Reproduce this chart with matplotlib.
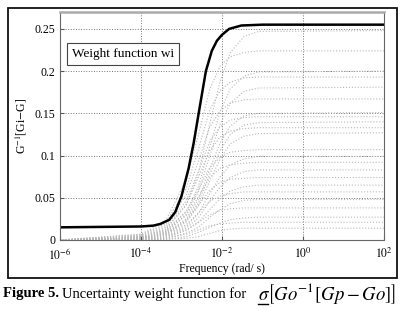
import numpy as np
import matplotlib
matplotlib.use('Agg')
import matplotlib.pyplot as plt
from matplotlib.patches import Rectangle
from matplotlib.lines import Line2D
from matplotlib.ticker import FixedLocator, NullLocator

plt.rcParams['font.family'] = 'Liberation Serif'
plt.rcParams['mathtext.fontset'] = 'stix'

# weight function wi (black curve)
w_freq = [1e-6, 1e-4, 2e-4, 3e-4, 5e-4, 7e-4, 1e-3, 1.5e-3, 2e-3, 3e-3, 4e-3,
          5.6e-3, 7.5e-3, 1e-2, 1.5e-2, 3e-2, 1e-1, 1e2]
w_val = [0.015, 0.016, 0.017, 0.019, 0.024, 0.033, 0.052, 0.085, 0.115, 0.165, 0.200,
         0.224, 0.236, 0.243, 0.250, 0.254, 0.255, 0.255]

# the family of relative errors (grey dotted curves)
g_freq = [1e-6, 1e-4, 4e-4, 1.3e-3, 2.6e-3, 5e-3, 9e-3, 1.6e-2, 3.5e-2, 8e-2, 1e2]
g_vals = [
    [0, 0.004, 0.012, 0.041, 0.078, 0.138, 0.188, 0.222, 0.241, 0.247, 0.248],
    [0, 0.007, 0.022, 0.071, 0.124, 0.179, 0.206, 0.217, 0.222, 0.224, 0.224],
    [0, 0.003, 0.010, 0.033, 0.063, 0.111, 0.152, 0.179, 0.194, 0.199, 0.200],
    [0, 0.006, 0.019, 0.061, 0.107, 0.154, 0.177, 0.187, 0.192, 0.193, 0.193],
    [0, 0.003, 0.009, 0.030, 0.057, 0.100, 0.137, 0.162, 0.176, 0.180, 0.181],
    [0, 0.006, 0.017, 0.053, 0.093, 0.134, 0.153, 0.162, 0.166, 0.167, 0.167],
    [0, 0.003, 0.008, 0.025, 0.048, 0.084, 0.115, 0.135, 0.147, 0.150, 0.151],
    [0, 0.005, 0.015, 0.046, 0.081, 0.117, 0.134, 0.142, 0.145, 0.146, 0.146],
    [0, 0.002, 0.007, 0.023, 0.044, 0.078, 0.106, 0.125, 0.136, 0.139, 0.140],
    [0, 0.004, 0.013, 0.042, 0.074, 0.106, 0.122, 0.129, 0.132, 0.133, 0.133],
    [0, 0.002, 0.006, 0.021, 0.040, 0.070, 0.096, 0.114, 0.123, 0.126, 0.127],
    [0, 0.004, 0.011, 0.034, 0.059, 0.086, 0.098, 0.104, 0.106, 0.107, 0.107],
    [0, 0.002, 0.005, 0.016, 0.031, 0.055, 0.075, 0.089, 0.096, 0.099, 0.099],
    [0, 0.003, 0.009, 0.029, 0.051, 0.074, 0.085, 0.089, 0.091, 0.092, 0.092],
    [0, 0.001, 0.004, 0.014, 0.026, 0.046, 0.063, 0.074, 0.081, 0.083, 0.083],
    [0, 0.002, 0.007, 0.023, 0.041, 0.059, 0.068, 0.072, 0.073, 0.074, 0.074],
    [0, 0.001, 0.003, 0.011, 0.021, 0.036, 0.049, 0.058, 0.063, 0.065, 0.065],
    [0, 0.002, 0.006, 0.018, 0.032, 0.046, 0.052, 0.055, 0.057, 0.057, 0.057],
    [0, 0.001, 0.002, 0.008, 0.015, 0.027, 0.036, 0.043, 0.047, 0.048, 0.048],
    [0, 0.001, 0.004, 0.012, 0.021, 0.030, 0.035, 0.037, 0.038, 0.038, 0.038],
    [0, 0.000, 0.001, 0.004, 0.009, 0.015, 0.020, 0.024, 0.026, 0.027, 0.027],
    [0, 0.001, 0.002, 0.007, 0.012, 0.017, 0.019, 0.020, 0.021, 0.021, 0.021],
    [0, 0.000, 0.001, 0.002, 0.004, 0.008, 0.011, 0.013, 0.014, 0.014, 0.014],
]

x_ticks = [1e-6, 1e-4, 1e-2, 1e0, 1e2]
x_labels = [r'$10^{-6}$', r'$10^{-4}$', r'$10^{-2}$', r'$10^{0}$', r'$10^{2}$']
y_ticks = [0, 0.05, 0.1, 0.15, 0.2, 0.25]
y_labels = ['0', '0.05', '0.1', '0.15', '0.2', '0.25']

fig = plt.figure(figsize=(4.06, 3.13), dpi=100)
ax = fig.add_axes([60/406, 1-240/313, 324/406, 228/313])

for v in g_vals:
    ax.plot(g_freq, v, ls=':', color='#b8b8b8', lw=0.8)
ax.plot(w_freq, w_val, color='black', lw=1.8)

ax.set_xscale('log')
ax.set_xlim(1e-6, 1e2)
ax.set_ylim(0, 0.27)
ax.xaxis.set_major_locator(FixedLocator(x_ticks))
ax.xaxis.set_minor_locator(NullLocator())
ax.set_xticklabels(x_labels)
ax.set_yticks(y_ticks)
ax.set_yticklabels(y_labels)
ax.tick_params(direction='in', labelsize=8.5, length=3, color='#555555')
ax.tick_params(axis='x', pad=5)
ax.grid(True, ls=':', color='#777777', lw=0.7)

for s in ['left', 'bottom', 'right']:
    ax.spines[s].set_color('#666666')
    ax.spines[s].set_linewidth(0.8)
ax.spines['top'].set_color('#aaaaaa')
ax.spines['top'].set_linewidth(1.8)

ax.set_xlabel('Frequency (rad/ s)', fontsize=8.5, labelpad=1)
ax.set_ylabel(r'G$^{-1}$[Gi$-$G]', fontsize=8.5, labelpad=4)

ax.text(0.037, 0.816, 'Weight function wi', transform=ax.transAxes, fontsize=9.5,
        va='center', ha='left',
        bbox=dict(boxstyle='square,pad=0.4', fc='white', ec='#444444', lw=0.8))

# outer frame around the figure
fig.patches.append(Rectangle((8/406, 1-278/313), 389/406, 270/313, transform=fig.transFigure,
                             fill=False, ec='#111111', lw=1.3))

# caption
fig.text(3/406, 1-294/313, 'Figure 5.', fontsize=10.5, fontweight='bold', va='center', ha='left')
fig.text(62/406, 1-294/313, 'Uncertainty weight function for', fontsize=10.5, va='center', ha='left')
fig.text(258/406, 1-294/313, r'$\sigma\left[Go^{-1}[Gp-Go]\right]$', fontsize=13.5, va='center', ha='left')
fig.lines.append(Line2D([258/406, 268/406], [1-304/313, 1-304/313], transform=fig.transFigure,
                        color='black', lw=1))

fig.savefig('out.png', dpi=100)
